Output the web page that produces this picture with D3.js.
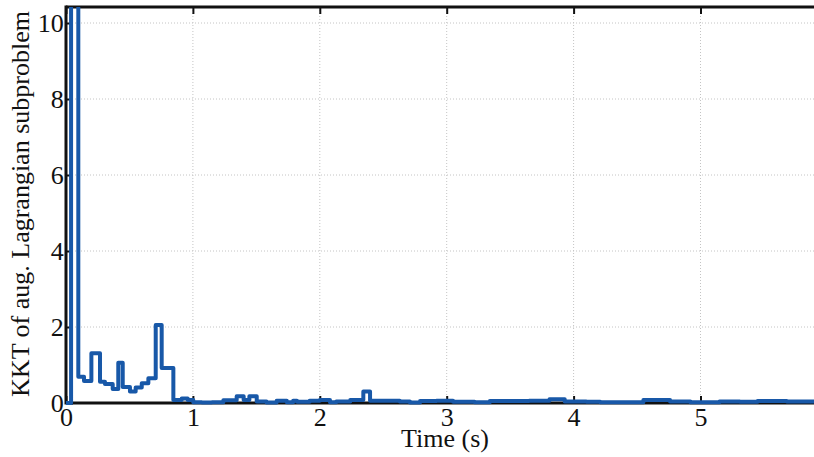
<!DOCTYPE html>
<html>
<head>
<meta charset="utf-8">
<script src="https://cdn.jsdelivr.net/npm/d3@7/dist/d3.min.js"></script>
<style>
  html, body { margin: 0; padding: 0; background: #fff; overflow: hidden; }
  svg { display: block; font-family: "Liberation Serif", "DejaVu Serif", serif; }
</style>
</head>
<body>
<svg id="chart" width="814" height="457"></svg>
<script>
// Step series: start time (s) of each step and its KKT value
const times = [0, 0.04, 0.097, 0.142, 0.2, 0.268, 0.307, 0.368, 0.412, 0.447, 0.504, 0.549, 0.597, 0.649, 0.707, 0.754, 0.846, 0.912, 0.959,
  1.003, 1.07, 1.15, 1.24, 1.345, 1.40, 1.445, 1.503, 1.58, 1.66, 1.74, 1.79, 1.82, 1.92, 2.0, 2.08, 2.13, 2.24, 2.343, 2.396, 2.63, 2.71,
  2.79, 2.92, 3.05, 3.22, 3.34, 3.65, 3.81, 3.93, 4.1, 4.21, 4.55, 4.76, 4.92, 5.15, 5.31, 5.45, 5.68, 6.0];
const kkt = [0, 12, 0.69, 0.58, 1.31, 0.56, 0.5, 0.37, 1.06, 0.42, 0.30, 0.41, 0.52, 0.65, 2.05, 0.92, 0.08, 0.12, 0.08,
  0.02, 0.01, 0.02, 0.07, 0.18, 0.08, 0.18, 0.04, 0.01, 0.06, 0.02, 0.06, 0.03, 0.06, 0.08, 0.02, 0.04, 0.08, 0.30, 0.06, 0.04, 0.01,
  0.05, 0.06, 0.03, 0.02, 0.05, 0.06, 0.10, 0.04, 0.03, 0.02, 0.08, 0.04, 0.02, 0.04, 0.03, 0.05, 0.04, 0.04];
const xTicks = [0, 1, 2, 3, 4, 5];
const yTicks = [0, 2, 4, 6, 8, 10];
const xLabel = "Time (s)";
const yLabel = "KKT of aug. Lagrangian subproblem";

(function () {
const svg = d3.select("#chart");
const pLeft = 66, pTop = 7, pBottom = 403;
const x = d3.scaleLinear().domain([0, 6]).range([pLeft, pLeft + 6 * 126.9]);
const y = d3.scaleLinear().domain([0, 10]).range([pBottom, 23]);
const pRight = x(6);

svg.append("defs").append("clipPath").attr("id", "clip")
  .append("rect").attr("x", pLeft).attr("y", pTop).attr("width", pRight - pLeft).attr("height", pBottom - pTop + 3);

// grid
const grid = svg.append("g");
grid.selectAll(".gx").data(xTicks.filter(d => d > 0)).join("line")
  .attr("x1", d => x(d)).attr("x2", d => x(d)).attr("y1", pTop).attr("y2", pBottom)
  .attr("stroke", "#c4c4c4").attr("stroke-width", 1).attr("stroke-dasharray", "1,2");
grid.selectAll(".gy").data(yTicks.filter(d => d > 0)).join("line")
  .attr("x1", pLeft).attr("x2", pRight).attr("y1", d => y(d)).attr("y2", d => y(d))
  .attr("stroke", "#c4c4c4").attr("stroke-width", 1).attr("stroke-dasharray", "1,2");

// axes with inward ticks
const tickLen = 7;
const axB = svg.append("g").attr("transform", `translate(0,${pBottom})`)
  .call(d3.axisBottom(x).tickValues(xTicks).tickSize(-tickLen).tickPadding(tickLen + 2).tickFormat(d3.format("d")));
const axT = svg.append("g").attr("transform", `translate(0,${pTop})`)
  .call(d3.axisTop(x).tickValues(xTicks).tickSize(-tickLen).tickFormat(""));
const axL = svg.append("g").attr("transform", `translate(${pLeft},0)`)
  .call(d3.axisLeft(y).tickValues(yTicks).tickSize(-tickLen).tickPadding(tickLen + 3).tickFormat(d3.format("d")));
[axB, axT, axL].forEach(a => {
  a.select(".domain").remove();
  a.selectAll(".tick line").attr("stroke", "#111").attr("stroke-width", 2);
  a.selectAll("text").attr("fill", "#111").attr("font-size", 26)
    .attr("font-family", "Liberation Serif, DejaVu Serif, serif");
});
axL.selectAll("text").attr("dx", "0.3em");
axB.selectAll("text").attr("dy", "0.55em");

// frame lines
svg.append("line").attr("x1", pLeft).attr("x2", pRight).attr("y1", pBottom).attr("y2", pBottom)
  .attr("stroke", "#111").attr("stroke-width", 3);
svg.append("line").attr("x1", pLeft).attr("x2", pRight).attr("y1", pTop).attr("y2", pTop)
  .attr("stroke", "#111").attr("stroke-width", 3);
svg.append("line").attr("x1", pLeft).attr("x2", pLeft).attr("y1", pTop - 1.5).attr("y2", pBottom + 1.5)
  .attr("stroke", "#111").attr("stroke-width", 3);

// data line
const pts = times.map((t, i) => [t, kkt[i]]);
const line = d3.line().x(d => x(d[0])).y(d => y(d[1])).curve(d3.curveStepAfter);
svg.append("path").datum(pts).attr("clip-path", "url(#clip)")
  .attr("d", line).attr("fill", "none").attr("stroke", "#1858a8")
  .attr("stroke-width", 4).attr("stroke-linejoin", "round");

// axis titles
svg.append("text").attr("x", 445).attr("y", 447).attr("text-anchor", "middle")
  .attr("font-size", 26).attr("fill", "#111").text(xLabel);
svg.append("text").attr("transform", "translate(29,204) rotate(-90)").attr("text-anchor", "middle")
  .attr("font-size", 26).attr("fill", "#111").text(yLabel);
})();
</script>
</body>
</html>
